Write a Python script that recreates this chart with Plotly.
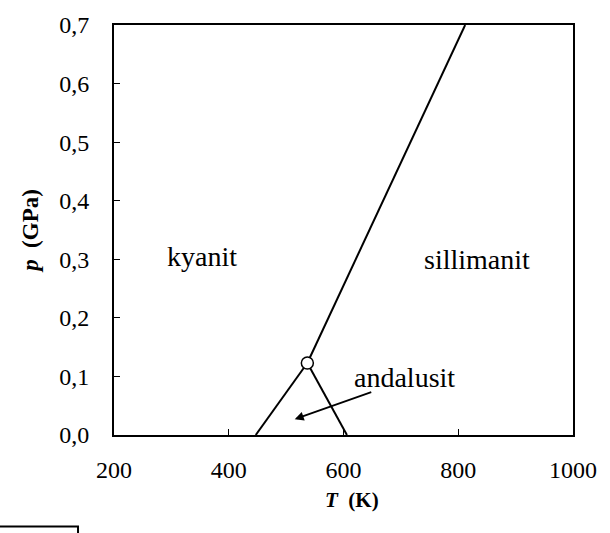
import plotly.graph_objects as go

# Phase boundaries (T in K, p in GPa)
ky_and_T = [447, 537]
ky_and_p = [0.0, 0.123]
and_sil_T = [537, 606]
and_sil_p = [0.123, 0.0]
ky_sil_T = [537, 812]
ky_sil_p = [0.123, 0.7]
triple_T = [537]
triple_p = [0.123]

labels = ["kyanit", "sillimanit", "andalusit"]
label_T = [354, 832, 707]
label_p = [0.305, 0.30, 0.098]

arrow_tail = (651, 0.074)
arrow_head = (515, 0.027)

x_ticks = [200, 400, 600, 800, 1000]
y_ticks = [0.0, 0.1, 0.2, 0.3, 0.4, 0.5, 0.6, 0.7]

FONT = "Liberation Serif"
line_style = dict(color="black", width=2)

fig = go.Figure()
for xs, ys in [(ky_and_T, ky_and_p), (and_sil_T, and_sil_p), (ky_sil_T, ky_sil_p)]:
    fig.add_trace(go.Scatter(x=xs, y=ys, mode="lines", line=line_style,
                             showlegend=False, hoverinfo="skip"))
fig.add_trace(go.Scatter(x=triple_T, y=triple_p, mode="markers",
                         marker=dict(symbol="circle", size=12, color="white",
                                     line=dict(color="black", width=1.5)),
                         showlegend=False, cliponaxis=False))

for t, x, y in zip(labels, label_T, label_p):
    fig.add_annotation(x=x, y=y, text=t, showarrow=False,
                       font=dict(family=FONT, size=28, color="black"))

fig.add_annotation(x=arrow_head[0], y=arrow_head[1], ax=arrow_tail[0], ay=arrow_tail[1],
                   axref="x", ayref="y", xref="x", yref="y", text="",
                   showarrow=True, arrowhead=2, arrowsize=1, arrowwidth=1.8,
                   arrowcolor="black")

# x-axis title placed as annotation (slightly right of centre, as in the reference)
fig.add_annotation(x=0.518, y=-0.158, xref="paper", yref="paper",
                   text="<b><i>T</i>&nbsp; (K)</b>", showarrow=False,
                   xanchor="center", yanchor="middle",
                   font=dict(family=FONT, size=21, color="black"))

# stray box fragment at bottom-left
fig.add_shape(type="rect", xref="paper", yref="paper",
              x0=-0.26, x1=-0.0784, y0=-0.26, y1=-0.223,
              line=dict(color="black", width=2), fillcolor="rgba(0,0,0,0)")

fig.update_layout(
    width=610, height=533,
    margin=dict(l=114, r=37, t=18, b=98),
    paper_bgcolor="white", plot_bgcolor="white",
    separators=", ",
    font=dict(family=FONT, color="black"),
    showlegend=False,
)
fig.update_xaxes(range=[200, 1000], tickvals=x_ticks, tickformat="d",
                 ticks="inside", ticklen=6, tickwidth=1, tickcolor="black",
                 showline=True, linecolor="black", linewidth=2, mirror=True,
                 showgrid=False, zeroline=False,
                 tickfont=dict(family=FONT, size=24), ticklabelstandoff=12)
fig.update_yaxes(range=[0, 0.7], tickvals=y_ticks, tickformat=".1f",
                 ticks="inside", ticklen=6, tickwidth=1, tickcolor="black",
                 showline=True, linecolor="black", linewidth=2, mirror=True,
                 showgrid=False, zeroline=False,
                 tickfont=dict(family=FONT, size=24), ticklabelstandoff=18,
                 title=dict(text="<b><i>p</i>&nbsp; (GPa)</b>", standoff=14,
                            font=dict(family=FONT, size=23)))

fig.write_html("out.html")
